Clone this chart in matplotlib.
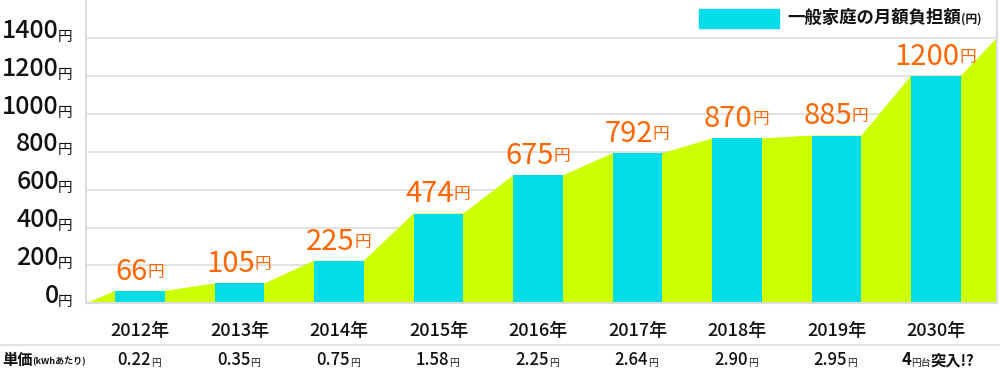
import matplotlib
matplotlib.use("Agg")
import matplotlib.pyplot as plt
import matplotlib.transforms as mtransforms
from matplotlib.patches import Rectangle

plt.rcParams['font.family'] = ['Noto Sans CJK JP', 'DejaVu Sans']

years = ['2012', '2013', '2014', '2015', '2016', '2017', '2018', '2019', '2030']
burden = [66, 105, 225, 474, 675, 792, 870, 885, 1200]
unit_price = ['0.22', '0.35', '0.75', '1.58', '2.25', '2.64', '2.90', '2.95', '4']
yticks = [0, 200, 400, 600, 800, 1000, 1200, 1400]
area_end = 1400
legend_label = '一般家庭の月額負担額'

cyan = '#00dde8'
green = '#ccff00'
orange = '#ff6600'
grid_c = '#dddddd'

fig = plt.figure(figsize=(10, 3.75), dpi=100)
ax = fig.add_axes([0.086, 0.191, 0.911, 0.809])

x = list(range(len(years)))
bw = 0.5
xl, xr = -0.543, 8.613
ax.set_xlim(xl, xr)
ax.set_ylim(0, 1600)

# green area joining bar tops
px = [xl]
py = [0]
for i, v in zip(x, burden):
    px += [i - bw / 2, i + bw / 2]
    py += [v, v]
px += [xr, xr]
py += [area_end, 0]
ax.fill(px, py, color=green, lw=0, zorder=1)

ax.bar(x, burden, width=bw, color=cyan, zorder=2)

for t in yticks[1:]:
    ax.axhline(t, color=grid_c, lw=1.2, zorder=0)
for s in ['left', 'right', 'bottom']:
    ax.spines[s].set_color(grid_c)
    ax.spines[s].set_linewidth(1.5)
ax.spines['top'].set_visible(False)
ax.set_xticks([])
ax.set_yticks([])

# y labels
ytr = ax.get_yaxis_transform()
for t in yticks:
    yen = ax.annotate('円', xy=(-0.0145, t), xycoords=ytr, xytext=(0, -2),
                      textcoords='offset points', ha='right', va='baseline',
                      fontsize=10.5, color='#111111')
    ax.annotate(str(t), xy=(0, 0), xycoords=yen, xytext=(0.5, 0),
                textcoords='offset points', ha='right', va='bottom',
                fontsize=18, color='#111111', fontweight='medium')

# value labels
for i, v in zip(x, burden):
    n = ax.annotate(str(v), xy=(i - 0.09, v), xytext=(0, 3),
                    textcoords='offset points', ha='center', va='bottom',
                    fontsize=21, color=orange)
    ax.annotate('円', xy=(1, 0.2), xycoords=n, ha='left', va='bottom',
                fontsize=12, color=orange)

# bottom rows
btr = mtransforms.blended_transform_factory(ax.transData, fig.transFigure)
for i, y in zip(x, years):
    ax.text(i, 0.118, y + '年', transform=btr, ha='center', va='center',
            fontsize=13, color='#111111', fontweight='medium')
fig.add_artist(plt.Line2D([0, 1], [0.08, 0.08], color=grid_c, lw=1.2,
                          transform=fig.transFigure))

for i, p in zip(x, unit_price):
    if i == len(x) - 1:
        n = ax.text(i - 0.3, 0.04, p, transform=btr, ha='center',
                    va='center', fontsize=12, color='#111111',
                    fontweight='bold')
        y2 = ax.annotate('円台', xy=(1, 0.05), xycoords=n, ha='left',
                         va='bottom', fontsize=7, color='#111111')
        ax.annotate('突入!?', xy=(1, -0.05), xycoords=y2, ha='left',
                    va='bottom', fontsize=11, color='#111111',
                    fontweight='bold')
    else:
        n = ax.text(i - 0.06, 0.04, p, transform=btr, ha='center',
                    va='center', fontsize=12, color='#111111',
                    fontweight='medium')
        ax.annotate('円', xy=(1, 0.05), xycoords=n, ha='left', va='bottom',
                    fontsize=7, color='#111111')

h = fig.text(0.002, 0.04, '単価', ha='left', va='center', fontsize=11,
             fontweight='bold', color='#111111')
ax.annotate('(kWhあたり)', xy=(1, 0.1), xycoords=h, ha='left', va='bottom',
            fontsize=6.5, fontweight='bold', color='#111111')

# legend
fig.add_artist(Rectangle((0.699, 0.925), 0.08, 0.051, color=cyan,
                         transform=fig.transFigure))
lt = fig.text(0.787, 0.951, legend_label, ha='left', va='center',
              fontsize=12.5, fontweight='bold', color='#111111')
ax.annotate('(円)', xy=(1, 0.1), xycoords=lt, ha='left', va='bottom',
            fontsize=8.5, fontweight='bold', color='#111111')

fig.savefig('out.png', dpi=100)
